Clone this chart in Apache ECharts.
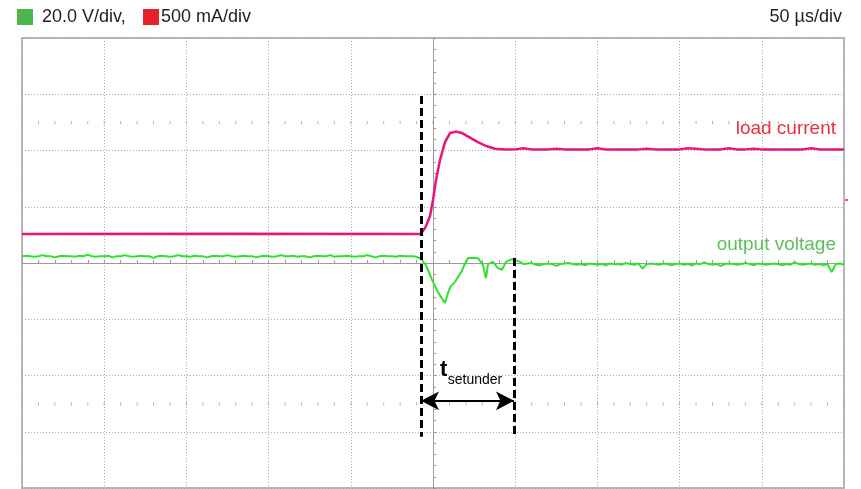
<!DOCTYPE html>
<html>
<head>
<meta charset="utf-8">
<script src="https://cdn.jsdelivr.net/npm/echarts@6/dist/echarts.min.js"></script>
<style>
  html, body { margin: 0; padding: 0; background: #fff; }
  #chart { width: 861px; height: 489px; }
</style>
</head>
<body>
<div id="chart"></div>
<script>
// screen units: x = divisions from centre (-5..5), y = divisions from centre (-4..4)
const dt = 0.05;

// output voltage (green)
const voltPreStart = -5.0;
const voltPre = [
  0.12, 0.13, 0.12, 0.11, 0.12, 0.14, 0.12, 0.12, 0.10, 0.12,
  0.13, 0.12, 0.12, 0.11, 0.13, 0.12, 0.15, 0.12, 0.11, 0.12,
  0.12, 0.13, 0.10, 0.12, 0.12, 0.14, 0.12, 0.11, 0.12, 0.13,
  0.12, 0.12, 0.09, 0.12, 0.13, 0.12, 0.11, 0.12, 0.14, 0.12,
  0.12, 0.11, 0.13, 0.12, 0.12, 0.10, 0.12, 0.13, 0.12, 0.12,
  0.14, 0.12, 0.11, 0.12, 0.13, 0.12, 0.12, 0.10, 0.12, 0.13,
  0.12, 0.11, 0.12, 0.14, 0.12, 0.12, 0.13, 0.11, 0.12, 0.12,
  0.10, 0.12, 0.13, 0.12, 0.12, 0.14, 0.11, 0.12, 0.12, 0.13,
  0.12, 0.11, 0.12, 0.12, 0.14, 0.12, 0.10, 0.12, 0.13, 0.12,
  0.12, 0.11, 0.13, 0.12, 0.12, 0.12, 0.11
];
const voltEdge = [
  [-0.15, 0.08], [-0.085, -0.04], [-0.012, -0.30], [0.061, -0.52], [0.122, -0.66],
  [0.146, -0.71], [0.17, -0.59], [0.195, -0.48], [0.219, -0.41], [0.243, -0.43],
  [0.27, -0.33], [0.304, -0.25], [0.34, -0.17], [0.377, -0.05], [0.426, 0.09],
  [0.547, 0.09], [0.608, -0.04], [0.645, -0.27], [0.669, -0.02], [0.73, 0.02],
  [0.79, -0.09], [0.839, -0.12], [0.888, 0.02], [0.961, 0.07], [1.058, 0.02]
];
const voltPostStart = 1.1;
const voltPost = [
  -0.02, -0.01, 0.00, -0.03, -0.04, -0.02, -0.01, -0.02, -0.05, -0.02,
  -0.01, 0.00, -0.02, -0.03, -0.02, -0.04, -0.01, -0.02, -0.03, -0.02,
  -0.04, -0.01, -0.02, -0.02, -0.03, 0.00, -0.02, -0.03, -0.01, -0.10,
  -0.02, -0.01, -0.02, -0.03, -0.01, -0.02, -0.04, -0.02, -0.01, -0.03,
  -0.02, -0.04, -0.01, -0.02, 0.01, -0.02, -0.03, -0.02, -0.05, -0.02,
  -0.01, -0.02, -0.03, -0.02, 0.00, -0.02, -0.04, -0.01, -0.02, -0.03,
  -0.02, -0.01, -0.02, -0.04, -0.02, -0.03, 0.01, -0.02, -0.03, -0.02,
  -0.01, -0.03, -0.02, -0.04, -0.02, -0.16, -0.02, -0.01, -0.03
];

// load current (magenta)
const currPre = [[-5.0, 0.515], [-2.5, 0.52], [-0.15, 0.515]];
const currEdge = [
  [-0.097, 0.62], [-0.036, 0.835], [0.0, 1.12], [0.036, 1.47], [0.085, 1.83],
  [0.146, 2.15], [0.207, 2.31], [0.28, 2.336], [0.353, 2.31], [0.45, 2.23],
  [0.547, 2.15], [0.645, 2.08], [0.754, 2.03], [0.876, 2.016]
];
const currPostStart = 0.9;
const currPostStep = 0.1;
const currPost = [
  2.02, 2.02, 2.04, 2.02, 2.02, 2.02, 2.03, 2.02, 2.02, 2.02,
  2.02, 2.04, 2.02, 2.02, 2.02, 2.02, 2.02, 2.03, 2.02, 2.02,
  2.02, 2.02, 2.04, 2.03, 2.02, 2.02, 2.02, 2.04, 2.02, 2.02,
  2.03, 2.02, 2.02, 2.02, 2.02, 2.02, 2.02, 2.04, 2.02, 2.02,
  2.02, 2.02
];

// setunder markers
const markerLeftX = -0.146;
const markerRightX = 0.985;
const arrowY = -2.45;

const fontFamily = '"Liberation Sans", Arial, Helvetica, sans-serif';

const chart = echarts.init(document.getElementById('chart'));

const voltData = [
  ...voltPre.map((y, k) => [voltPreStart + k * dt, y]),
  ...voltEdge,
  ...voltPost.map((y, k) => [voltPostStart + k * dt, y])
];
const currData = [
  ...currPre,
  ...currEdge,
  ...currPost.map((y, k) => [currPostStart + k * currPostStep, y])
];

// graticule dot rows
const dots = [];
for (let k = -25; k <= 25; k++) {
  dots.push([k * 0.2, 2.5]);
  dots.push([k * 0.2, -2.5]);
}

const gridLine = { color: '#a8a8a8', width: 1, type: [1, 2] };

chart.setOption({
  animation: false,
  grid: {
    left: 22, top: 38, width: 822, height: 450,
    show: true, borderColor: '#b8b8b8', borderWidth: 2
  },
  xAxis: {
    type: 'value', min: -5, max: 5, interval: 1,
    axisLine: { onZero: true, lineStyle: { color: '#9a9a9a', width: 1 } },
    axisTick: { show: true, inside: true, length: 3, lineStyle: { color: '#9a9a9a' } },
    minorTick: { show: true, splitNumber: 5, length: 3, lineStyle: { color: '#9a9a9a' } },
    axisLabel: { show: false },
    splitLine: { show: true, lineStyle: gridLine }
  },
  yAxis: {
    type: 'value', min: -4, max: 4, interval: 1,
    axisLine: { onZero: true, lineStyle: { color: '#9a9a9a', width: 1 } },
    axisTick: { show: true, inside: true, length: 3, lineStyle: { color: '#9a9a9a' } },
    minorTick: { show: true, splitNumber: 5, length: 3, lineStyle: { color: '#9a9a9a' } },
    axisLabel: { show: false },
    splitLine: { show: true, lineStyle: gridLine }
  },
  series: [
    {
      type: 'scatter', data: dots, silent: true,
      symbol: 'rect', symbolSize: [1, 3],
      itemStyle: { color: '#a0a0a0' }
    },
    {
      name: 'load current', type: 'line', data: currData,
      showSymbol: false, silent: true,
      lineStyle: { color: '#e8157b', width: 2.5 }
    },
    {
      name: 'output voltage', type: 'line', data: voltData,
      showSymbol: false, silent: true,
      lineStyle: { color: '#2ee32e', width: 2 },
      markLine: {
        silent: true,
        symbol: 'none',
        label: { show: false },
        data: [
          [
            { coord: [markerLeftX, 2.97], lineStyle: { color: '#000', width: 3, type: [8, 4] } },
            { coord: [markerLeftX, -3.09] }
          ],
          [
            { coord: [markerRightX, 0.09], lineStyle: { color: '#000', width: 3, type: [8, 4] } },
            { coord: [markerRightX, -3.09] }
          ],
          [
            { coord: [markerLeftX, arrowY], symbol: 'arrow', symbolSize: [14, 18],
              lineStyle: { color: '#000', width: 2, type: 'solid' } },
            { coord: [markerRightX, arrowY], symbol: 'arrow', symbolSize: [14, 18] }
          ]
        ]
      }
    }
  ]
});

const tPos = chart.convertToPixel({ gridIndex: 0 }, [0.085, -1.9]);
const subPos = chart.convertToPixel({ gridIndex: 0 }, [0.18, -2.08]);
const iMark = chart.convertToPixel({ gridIndex: 0 }, [5, 1.12]);

chart.setOption({
  graphic: [
    { type: 'rect', shape: { x: 17, y: 9, width: 16, height: 16 }, style: { fill: '#4cb84c' } },
    { type: 'text', x: 42, y: 17, style: { text: '20.0 V/div,', font: '18px ' + fontFamily, fill: '#222', verticalAlign: 'middle' } },
    { type: 'rect', shape: { x: 143, y: 9, width: 16, height: 16 }, style: { fill: '#e82228' } },
    { type: 'text', x: 161, y: 17, style: { text: '500 mA/div', font: '18px ' + fontFamily, fill: '#222', verticalAlign: 'middle' } },
    { type: 'text', x: 842, y: 17, style: { text: '50 µs/div', font: '18px ' + fontFamily, fill: '#222', align: 'right', verticalAlign: 'middle' } },
    { type: 'text', x: 836, y: 129, style: { text: 'load current', font: '19px ' + fontFamily, fill: '#e8303c', align: 'right', verticalAlign: 'middle' } },
    { type: 'text', x: 836, y: 245, style: { text: 'output voltage', font: '19px ' + fontFamily, fill: '#5cbf5c', align: 'right', verticalAlign: 'middle' } },
    { type: 'text', x: tPos[0], y: tPos[1], style: { text: 't', font: 'bold 22px ' + fontFamily, fill: '#000', verticalAlign: 'middle' } },
    { type: 'text', x: subPos[0], y: subPos[1], style: { text: 'setunder', font: '14px ' + fontFamily, fill: '#000', verticalAlign: 'middle' } },
    { type: 'line', shape: { x1: iMark[0] + 1, y1: iMark[1], x2: iMark[0] + 4, y2: iMark[1] }, style: { stroke: '#e8157b', lineWidth: 1.5 } }
  ]
});
</script>
</body>
</html>
